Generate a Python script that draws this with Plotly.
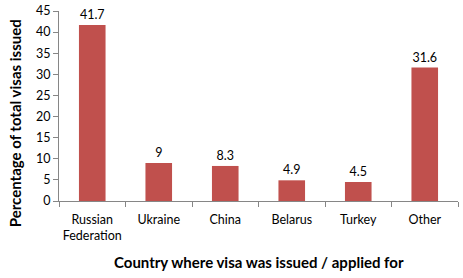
import plotly.graph_objects as go

categories = ["Russian<br>Federation", "Ukraine", "China", "Belarus", "Turkey", "Other"]
values = [41.7, 9, 8.3, 4.9, 4.5, 31.6]
labels = ["41.7", "9", "8.3", "4.9", "4.5", "31.6"]
y_ticks = [0, 5, 10, 15, 20, 25, 30, 35, 40, 45]
x_title = "Country where visa was issued / applied for"
y_title = "Percentage of total visas issued"

font = "Lato, Open Sans, sans-serif"

fig = go.Figure(go.Bar(
    x=categories, y=values, text=labels, textposition="outside",
    textfont=dict(size=12.5, color="#000000", family=font),
    marker=dict(color="#C0504D", line=dict(width=0)),
    width=0.4, cliponaxis=False,
))

fig.update_layout(
    width=463, height=278,
    margin=dict(l=59, r=5, t=11, b=77, autoexpand=False),
    plot_bgcolor="white", paper_bgcolor="white",
    showlegend=False,
    font=dict(family=font, size=12, color="#000000"),
    annotations=[
        dict(text="<b>" + x_title + "</b>", xref="paper", yref="paper",
             x=0.5, y=-0.32, xanchor="center", yanchor="middle",
             showarrow=False, font=dict(size=15, family=font)),
        dict(text="<b>" + y_title + "</b>", xref="paper", yref="paper",
             x=-0.11, y=0.41, xanchor="center", yanchor="middle", textangle=-90,
             showarrow=False, font=dict(size=15, family=font)),
    ],
)
fig.update_xaxes(
    showline=True, linecolor="#868686", linewidth=1,
    ticks="outside", tickson="boundaries", ticklen=5, tickcolor="#868686",
    ticklabelstandoff=7, tickangle=0, automargin=False,
    showgrid=False,
    tickfont=dict(size=12.5, family=font),
)
fig.update_yaxes(
    range=[0, 45], tickvals=y_ticks,
    showline=True, linecolor="#868686", linewidth=1,
    ticks="outside", ticklen=5, tickcolor="#868686",
    showgrid=False, zeroline=False, automargin=False,
    tickfont=dict(size=12.5, family=font),
)

fig.write_html("out.html")
